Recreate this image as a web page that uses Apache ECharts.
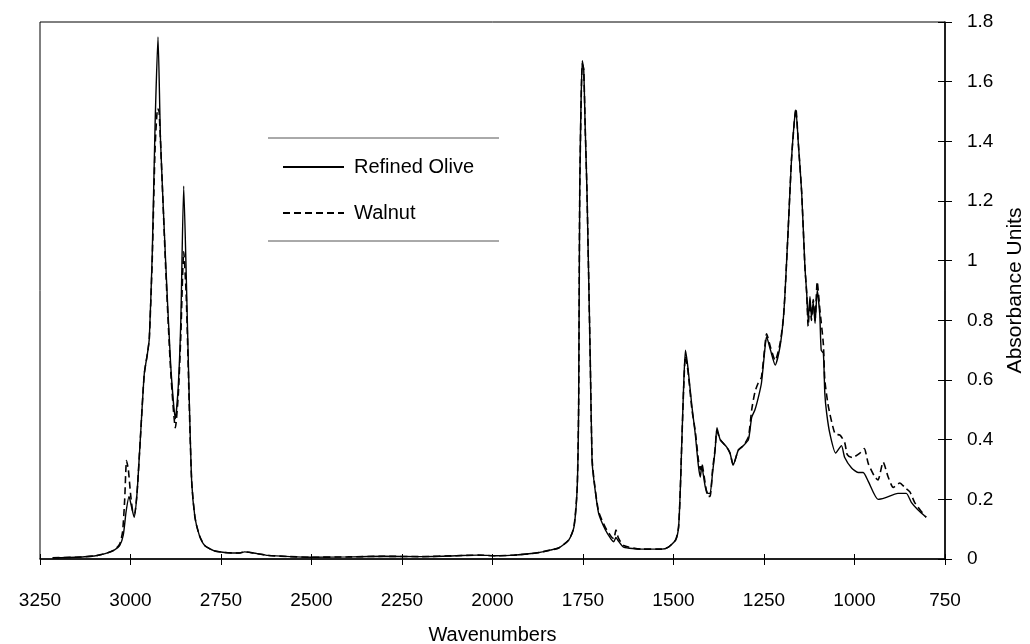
<!DOCTYPE html>
<html>
<head>
<meta charset="utf-8">
<script src="https://cdn.jsdelivr.net/npm/echarts@6/dist/echarts.min.js"></script>
<style>
html,body{margin:0;padding:0;background:#fff;}
#chart{width:1030px;height:644px;}
</style>
</head>
<body>
<div id="chart"></div>
<script>
// Wavenumber ticks (cm-1)
const xTicks = [3250, 3000, 2750, 2500, 2250, 2000, 1750, 1500, 1250, 1000, 750];
const yTicks = [0, 0.2, 0.4, 0.6, 0.8, 1, 1.2, 1.4, 1.6, 1.8];
const seriesNames = ['Refined Olive', 'Walnut'];

// Refined Olive spectrum
const oliveWn = [3215,3150,3100,3070,3045,3030,3020,3012,3004,2998,2990,2982,2972,2962,2953,2948,2940,2932,2924,2917,2903,2889,2876,2868,2861,2853,2846,2838,2831,2822,2810,2795,2770,2740,2700,2685,2660,2620,2560,2500,2400,2300,2200,2100,2040,1990,1940,1880,1840,1817,1789,1775,1766,1762,1759,1752,1748,1744,1739,1730,1725,1720,1707,1688,1672,1665,1659,1652,1638,1588,1533,1514,1494,1486,1481,1478,1472,1467,1460,1449,1440,1431,1426,1422,1412,1405,1399,1392,1385,1380,1371,1353,1344,1335,1321,1307,1293,1284,1275,1266,1257,1247,1243,1232,1219,1206,1197,1192,1183,1174,1166,1162,1155,1146,1137,1132,1128,1123,1119,1114,1109,1103,1096,1092,1086,1082,1077,1068,1052,1036,1027,1008,990,976,962,935,916,880,857,843,825,802];
const oliveAbs = [0.004,0.006,0.01,0.018,0.03,0.045,0.08,0.16,0.21,0.18,0.14,0.22,0.42,0.62,0.69,0.74,1.02,1.46,1.75,1.40,1.00,0.65,0.47,0.58,0.80,1.25,0.95,0.55,0.26,0.14,0.08,0.045,0.028,0.022,0.02,0.024,0.02,0.012,0.008,0.006,0.007,0.009,0.008,0.011,0.013,0.011,0.013,0.02,0.03,0.037,0.064,0.107,0.24,0.52,1.23,1.67,1.64,1.45,1.23,0.67,0.33,0.265,0.154,0.097,0.066,0.058,0.072,0.06,0.04,0.033,0.033,0.04,0.064,0.107,0.24,0.355,0.58,0.70,0.64,0.51,0.42,0.31,0.275,0.31,0.24,0.22,0.22,0.29,0.365,0.44,0.40,0.375,0.355,0.315,0.365,0.38,0.40,0.475,0.50,0.54,0.59,0.71,0.745,0.70,0.65,0.71,0.80,0.89,1.11,1.34,1.47,1.505,1.39,1.23,0.98,0.89,0.80,0.88,0.81,0.86,0.79,0.90,0.82,0.70,0.69,0.555,0.49,0.42,0.355,0.38,0.34,0.305,0.29,0.29,0.26,0.20,0.205,0.22,0.22,0.19,0.165,0.14];

// Walnut spectrum
const walnutWn = [3215,3150,3100,3070,3045,3030,3022,3016,3011,3006,3000,2994,2989,2982,2972,2962,2953,2948,2940,2932,2925,2921,2912,2903,2889,2876,2868,2861,2853,2846,2838,2831,2822,2810,2795,2770,2740,2700,2685,2660,2620,2560,2500,2400,2300,2200,2100,2040,1990,1940,1880,1840,1817,1789,1775,1766,1762,1759,1752,1748,1744,1739,1730,1725,1720,1707,1688,1672,1665,1659,1652,1638,1588,1533,1514,1494,1486,1481,1478,1472,1467,1460,1449,1440,1431,1426,1422,1412,1405,1399,1392,1385,1380,1371,1353,1344,1335,1321,1307,1293,1284,1275,1266,1257,1247,1243,1232,1219,1206,1197,1192,1183,1174,1166,1162,1155,1146,1137,1132,1128,1123,1119,1114,1109,1103,1096,1086,1082,1072,1054,1040,1027,1020,1006,985,973,962,944,935,921,907,893,875,861,847,834,816,802];
const walnutAbs = [0.004,0.006,0.01,0.018,0.03,0.05,0.09,0.2,0.33,0.3,0.22,0.16,0.15,0.22,0.42,0.62,0.69,0.74,1.0,1.38,1.51,1.50,1.25,0.98,0.63,0.44,0.55,0.75,1.03,0.88,0.53,0.26,0.14,0.08,0.045,0.028,0.022,0.02,0.024,0.02,0.012,0.008,0.006,0.007,0.009,0.008,0.011,0.013,0.011,0.013,0.02,0.03,0.037,0.064,0.107,0.24,0.52,1.23,1.66,1.64,1.45,1.23,0.67,0.34,0.27,0.16,0.105,0.075,0.068,0.097,0.07,0.045,0.033,0.033,0.04,0.064,0.107,0.24,0.355,0.57,0.68,0.63,0.50,0.43,0.33,0.30,0.32,0.25,0.21,0.21,0.30,0.37,0.43,0.40,0.375,0.355,0.315,0.365,0.38,0.41,0.50,0.56,0.59,0.61,0.72,0.755,0.71,0.665,0.72,0.80,0.89,1.11,1.34,1.47,1.51,1.39,1.23,0.98,0.89,0.78,0.86,0.80,0.87,0.80,0.93,0.84,0.72,0.60,0.51,0.42,0.415,0.39,0.35,0.34,0.355,0.37,0.32,0.275,0.265,0.325,0.275,0.24,0.255,0.24,0.225,0.19,0.16,0.14];

const olivePts = oliveWn.map((w, i) => [w, oliveAbs[i]]);
const walnutPts = walnutWn.map((w, i) => [w, walnutAbs[i]]);

const FONT = 'Liberation Sans, Arial, sans-serif';
const chart = echarts.init(document.getElementById('chart'), null, {renderer: 'canvas'});

const baseX = {
  type: 'value', inverse: true,
  min: xTicks[xTicks.length - 1], max: xTicks[0], interval: 250,
  position: 'bottom'
};
const baseY = {
  type: 'value', position: 'right',
  min: yTicks[0], max: yTicks[yTicks.length - 1], interval: 0.2
};

chart.setOption({
  animation: false,
  backgroundColor: '#ffffff',
  grid: {left: 40, right: 85, top: 22, bottom: 85, show: true, borderColor: '#000', borderWidth: 1,
         containLabel: false, outerBoundsMode: 'none'},
  legend: {
    data: seriesNames,
    orient: 'vertical',
    left: 277, top: 152,
    itemWidth: 61, itemHeight: 14, itemGap: 26,
    itemStyle: {opacity: 0},
    textStyle: {fontFamily: FONT, fontSize: 20, color: '#000', padding: [0, 0, 0, 5]}
  },
  graphic: [
    {type: 'line', shape: {x1: 268, y1: 138, x2: 499, y2: 138}, style: {stroke: '#555', lineWidth: 1}},
    {type: 'line', shape: {x1: 268, y1: 241, x2: 499, y2: 241}, style: {stroke: '#555', lineWidth: 1}}
  ],
  xAxis: [
    Object.assign({}, baseX, {
      name: 'Wavenumbers', nameLocation: 'middle', nameGap: 66,
      nameTextStyle: {fontFamily: FONT, fontSize: 20, color: '#000'},
      axisLine: {show: true, lineStyle: {color: '#000', width: 1.5}},
      axisTick: {show: true, inside: false, length: 6, lineStyle: {color: '#000'}},
      axisLabel: {fontFamily: FONT, fontSize: 19, color: '#000', margin: 32, formatter: (v) => String(v)},
      splitLine: {show: false}
    }),
    Object.assign({}, baseX, {
      axisLine: {show: false},
      axisTick: {show: true, inside: true, length: 5, lineStyle: {color: '#000'}},
      axisLabel: {show: false},
      splitLine: {show: false}
    })
  ],
  yAxis: [
    Object.assign({}, baseY, {
      name: 'Absorbance Units', nameLocation: 'middle', nameGap: 58, nameRotate: 90,
      nameTextStyle: {fontFamily: FONT, fontSize: 21, color: '#000'},
      axisLine: {show: true, lineStyle: {color: '#000', width: 1.5}},
      axisTick: {show: true, inside: false, length: 7, lineStyle: {color: '#000'}},
      axisLabel: {fontFamily: FONT, fontSize: 19, color: '#000', margin: 22},
      splitLine: {show: false}
    }),
    Object.assign({}, baseY, {
      axisLine: {show: false},
      axisTick: {show: true, inside: true, length: 7, lineStyle: {color: '#000'}},
      axisLabel: {show: false},
      splitLine: {show: false}
    })
  ],
  series: [
    {
      name: seriesNames[0], type: 'line', data: olivePts,
      xAxisIndex: 0, yAxisIndex: 0,
      symbol: 'none', showSymbol: false, smooth: 0.2,
      lineStyle: {color: '#000', width: 1.4, type: 'solid'},
      itemStyle: {color: '#000'}
    },
    {
      name: seriesNames[1], type: 'line', data: walnutPts,
      xAxisIndex: 0, yAxisIndex: 0,
      symbol: 'none', showSymbol: false, smooth: 0.2,
      lineStyle: {color: '#000', width: 1.6, type: [7, 4]},
      itemStyle: {color: '#000'}
    }
  ]
});
</script>
</body>
</html>
